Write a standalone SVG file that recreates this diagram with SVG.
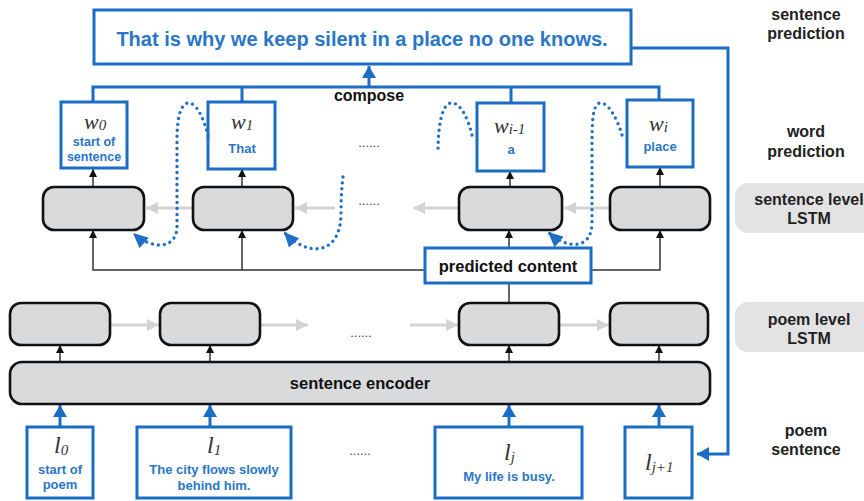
<svg xmlns="http://www.w3.org/2000/svg" width="864" height="501" viewBox="0 0 864 501">
  <defs>
    <style>
      .sans { font-family: "Liberation Sans", Arial, sans-serif; font-weight: bold; }
      .math { font-family: "Liberation Serif", "Times New Roman", serif; font-style: italic; fill: #333; }
      .blue-text { fill: #2a76c6; }
      .label { fill: #222; font-size: 16px; text-anchor: middle; }
      .box { fill: #fff; stroke: #1b6cc4; stroke-width: 3; }
      .cell { fill: #d9dadc; stroke: #111; stroke-width: 2.6; }
      .tag { fill: #e3e3e3; }
      .wire { fill: none; stroke: #333; stroke-width: 1.5; }
      .bluewire { fill: none; stroke: #1b6cc4; stroke-width: 3; }
      .gray { fill: none; stroke: #d3d3d3; stroke-width: 3; }
      .dots { fill: none; stroke: #1f6fc6; stroke-width: 3.4; stroke-dasharray: 0 6; stroke-linecap: round; }
      .ellipsis { font-family: "Liberation Sans", Arial, sans-serif; font-size: 13px; fill: #444; text-anchor: middle; }
    </style>
    <marker id="arr-black" markerUnits="userSpaceOnUse" markerWidth="8" markerHeight="8" refX="8" refY="4" orient="auto">
      <path d="M0,0 L8,4 L0,8 z" fill="#111"/>
    </marker>
    <marker id="arr-blue" markerUnits="userSpaceOnUse" markerWidth="13" markerHeight="14" refX="12" refY="7" orient="auto">
      <path d="M0,0 L12,7 L0,14 z" fill="#1b6cc4"/>
    </marker>
    <marker id="arr-gray" markerUnits="userSpaceOnUse" markerWidth="12" markerHeight="12" refX="12" refY="6" orient="auto">
      <path d="M0,0 L12,6 L0,12 z" fill="#d3d3d3"/>
    </marker>
    <marker id="arr-dot" markerUnits="userSpaceOnUse" markerWidth="16" markerHeight="14" refX="15" refY="7" orient="auto">
      <path d="M0,0 L15,7 L0,14 z" fill="#1f6fc6"/>
    </marker>
  </defs>

  <rect width="864" height="501" fill="#fff"/>

  <!-- side labels -->
  <g id="side-labels">
    <text class="sans label" x="806" y="20">sentence</text>
    <text class="sans label" x="806" y="39">prediction</text>
    <text class="sans label" x="806" y="137">word</text>
    <text class="sans label" x="806" y="157">prediction</text>
    <rect class="tag" x="735" y="183" width="140" height="50" rx="13"/>
    <text class="sans label" x="809" y="205">sentence level</text>
    <text class="sans label" x="809" y="224">LSTM</text>
    <rect class="tag" x="735" y="302" width="140" height="50" rx="13"/>
    <text class="sans label" x="809" y="325">poem level</text>
    <text class="sans label" x="809" y="344">LSTM</text>
    <text class="sans label" x="806" y="436">poem</text>
    <text class="sans label" x="806" y="455">sentence</text>
  </g>

  <!-- connectors -->
  <g id="connectors">
    <!-- compose bus -->
    <path class="bluewire" d="M93,102 V87 H659 V101"/>
    <path class="bluewire" d="M242,87 V102"/>
    <path class="bluewire" d="M511,87 V103"/>
    <path class="bluewire" d="M369,87 V66" marker-end="url(#arr-blue)"/>
    <!-- feedback from sentence to next poem line -->
    <path class="bluewire" d="M631,48 H728 V454 H697" marker-end="url(#arr-blue)"/>

    <!-- sentence cells to word boxes -->
    <path class="wire" d="M93,187 V169" marker-end="url(#arr-black)"/>
    <path class="wire" d="M242,187 V169" marker-end="url(#arr-black)"/>
    <path class="wire" d="M510,187 V171" marker-end="url(#arr-black)"/>
    <path class="wire" d="M660,187 V167" marker-end="url(#arr-black)"/>

    <!-- predicted content fan-out -->
    <path class="wire" d="M425,270 H93 V230" marker-end="url(#arr-black)"/>
    <path class="wire" d="M242,270 V230" marker-end="url(#arr-black)"/>
    <path class="wire" d="M509,248 V230" marker-end="url(#arr-black)"/>
    <path class="wire" d="M591,270 H660 V230" marker-end="url(#arr-black)"/>
    <path class="wire" d="M509,303 V283"/>

    <!-- encoder to poem cells -->
    <path class="wire" d="M60,362 V345" marker-end="url(#arr-black)"/>
    <path class="wire" d="M210,362 V345" marker-end="url(#arr-black)"/>
    <path class="wire" d="M509,362 V345" marker-end="url(#arr-black)"/>
    <path class="wire" d="M659,362 V345" marker-end="url(#arr-black)"/>

    <!-- poem lines into encoder -->
    <path class="bluewire" d="M60,427 V405" marker-end="url(#arr-blue)"/>
    <path class="bluewire" d="M210,427 V405" marker-end="url(#arr-blue)"/>
    <path class="bluewire" d="M509,427 V405" marker-end="url(#arr-blue)"/>
    <path class="bluewire" d="M659,427 V405" marker-end="url(#arr-blue)"/>

    <!-- sentence level recurrence (right to left) -->
    <path class="gray" d="M193,208 H146" marker-end="url(#arr-gray)"/>
    <path class="gray" d="M335,208 H295" marker-end="url(#arr-gray)"/>
    <path class="gray" d="M459,208 H413" marker-end="url(#arr-gray)"/>
    <path class="gray" d="M610,208 H564" marker-end="url(#arr-gray)"/>

    <!-- poem level recurrence (left to right) -->
    <path class="gray" d="M110,325 H159" marker-end="url(#arr-gray)"/>
    <path class="gray" d="M260,325 H308" marker-end="url(#arr-gray)"/>
    <path class="gray" d="M410,325 H458" marker-end="url(#arr-gray)"/>
    <path class="gray" d="M559,325 H609" marker-end="url(#arr-gray)"/>
  </g>

  <!-- sentence prediction -->
  <g id="sentence-prediction">
    <rect class="box" x="94" y="10" width="537" height="54"/>
    <text class="sans blue-text" x="362" y="46" font-size="20" text-anchor="middle">That is why we keep silent in a place no one knows.</text>
  </g>
  <text class="sans" x="369" y="101" font-size="16" fill="#111" text-anchor="middle">compose</text>

  <!-- word prediction boxes -->
  <g id="word-0">
    <rect class="box" x="61" y="102" width="66" height="66"/>
    <text class="math" x="84" y="129" font-size="22">w<tspan font-size="15" dy="1">0</tspan></text>
    <text class="sans blue-text" x="94" y="146" font-size="12.5" text-anchor="middle">start of</text>
    <text class="sans blue-text" x="94" y="161" font-size="12.5" text-anchor="middle">sentence</text>
  </g>
  <g id="word-1">
    <rect class="box" x="208" y="102" width="67" height="67"/>
    <text class="math" x="231" y="129" font-size="22">w<tspan font-size="15" dy="1">1</tspan></text>
    <text class="sans blue-text" x="242" y="153" font-size="13" text-anchor="middle">That</text>
  </g>
  <g id="word-i-1">
    <rect class="box" x="477" y="103" width="67" height="68"/>
    <text class="math" x="494" y="133" font-size="22">w<tspan font-size="15" dy="1">i-1</tspan></text>
    <text class="sans blue-text" x="511" y="154" font-size="13" text-anchor="middle">a</text>
  </g>
  <g id="word-i">
    <rect class="box" x="627" y="100" width="66" height="67"/>
    <text class="math" x="649" y="131" font-size="22">w<tspan font-size="15" dy="1">i</tspan></text>
    <text class="sans blue-text" x="660" y="151" font-size="13" text-anchor="middle">place</text>
  </g>
  <text class="ellipsis" x="369" y="147">......</text>

  <!-- sentence level LSTM cells -->
  <g id="sent-cell-1"><rect class="cell" x="43" y="187" width="101" height="43" rx="11"/></g>
  <g id="sent-cell-2"><rect class="cell" x="193" y="187" width="100" height="43" rx="11"/></g>
  <g id="sent-cell-3"><rect class="cell" x="459" y="187" width="103" height="43" rx="11"/></g>
  <g id="sent-cell-4"><rect class="cell" x="610" y="187" width="100" height="43" rx="11"/></g>
  <text class="ellipsis" x="369" y="205">......</text>

  <!-- predicted content -->
  <g id="predicted-content">
    <rect class="box" x="425" y="248" width="166" height="35"/>
    <text class="sans" x="508" y="272" font-size="16.5" fill="#111" text-anchor="middle">predicted content</text>
  </g>

  <!-- poem level LSTM cells -->
  <g id="poem-cell-1"><rect class="cell" x="10" y="303" width="100" height="42" rx="11"/></g>
  <g id="poem-cell-2"><rect class="cell" x="160" y="303" width="100" height="42" rx="11"/></g>
  <g id="poem-cell-3"><rect class="cell" x="459" y="303" width="100" height="42" rx="11"/></g>
  <g id="poem-cell-4"><rect class="cell" x="610" y="303" width="98" height="42" rx="11"/></g>
  <text class="ellipsis" x="361" y="337">......</text>

  <!-- sentence encoder -->
  <g id="sentence-encoder">
    <rect class="cell" x="10" y="362" width="700" height="42" rx="12"/>
    <text class="sans" x="360" y="389" font-size="16.5" fill="#111" text-anchor="middle">sentence encoder</text>
  </g>

  <!-- poem sentences -->
  <g id="line-0">
    <rect class="box" x="27" y="427" width="66" height="71"/>
    <text class="math" x="54" y="453" font-size="24">l<tspan font-size="15" dy="2">0</tspan></text>
    <text class="sans blue-text" x="60" y="474" font-size="13" text-anchor="middle">start of</text>
    <text class="sans blue-text" x="60" y="489" font-size="13" text-anchor="middle">poem</text>
  </g>
  <g id="line-1">
    <rect class="box" x="137" y="427" width="154" height="71"/>
    <text class="math" x="207" y="453" font-size="24">l<tspan font-size="15" dy="2">1</tspan></text>
    <text class="sans blue-text" x="214" y="474" font-size="13" text-anchor="middle">The city flows slowly</text>
    <text class="sans blue-text" x="214" y="490" font-size="13" text-anchor="middle">behind him.</text>
  </g>
  <g id="line-j">
    <rect class="box" x="435" y="427" width="147" height="71"/>
    <text class="math" x="504" y="460" font-size="24">l<tspan font-size="15" dy="2">j</tspan></text>
    <text class="sans blue-text" x="509" y="481" font-size="13" text-anchor="middle">My life is busy.</text>
  </g>
  <g id="line-j1">
    <rect class="box" x="625" y="427" width="67" height="71"/>
    <text class="math" x="645" y="470" font-size="24">l<tspan font-size="15" dy="2">j+1</tspan></text>
  </g>
  <text class="ellipsis" x="360" y="455">......</text>

  <!-- attention-style feedback from each word back into the previous cell -->
  <g id="feedback-curves">
    <path class="dots" d="M208,136 C204,118 196,102 188,103 C180,104 177,120 177,140 L177,226 C177,250 152,250 133,233" marker-end="url(#arr-dot)"/>
    <path class="dots" d="M472,135 C468,118 460,102 451,103 C442,104 438,125 438,153"/>
    <path class="dots" d="M343,177 C342,185 341,195 341,215 C340,255 308,258 284,232" marker-end="url(#arr-dot)"/>
    <path class="dots" d="M622,135 C617,118 608,102 600,103 C592,104 592,125 592,150 L592,222 C592,250 568,250 548,232" marker-end="url(#arr-dot)"/>
  </g>
</svg>
